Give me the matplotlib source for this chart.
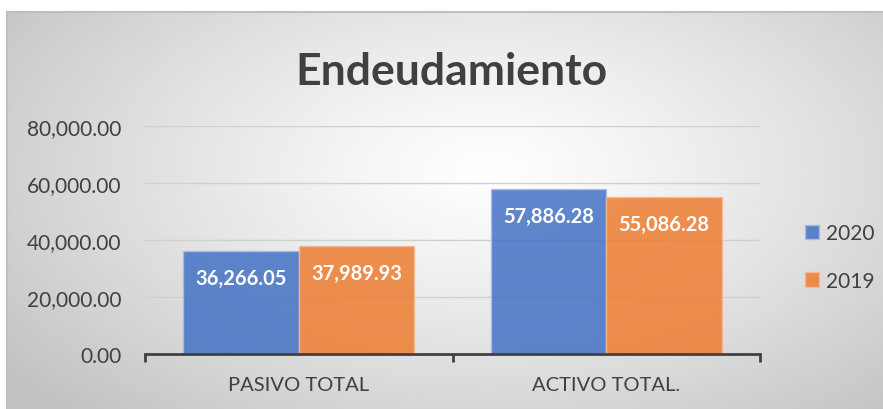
import matplotlib
import matplotlib.pyplot as plt
import numpy as np
from matplotlib.ticker import FuncFormatter, FixedLocator

matplotlib.rcParams['font.family'] = ['Lato', 'DejaVu Sans']

categories = ['PASIVO TOTAL', 'ACTIVO TOTAL.']
years = ['2020', '2019']
values_2020 = [36266.05, 57886.28]
values_2019 = [37989.93, 55086.28]
y_ticks = [0, 20000, 40000, 60000, 80000]

W, H = 883, 410
fig = plt.figure(figsize=(W / 100, H / 100), dpi=100)

# radial gradient background of the chart area
bg = fig.add_axes([7 / W, 0, (W - 7) / W, (H - 13) / H], zorder=-5)
gx, gy = np.meshgrid(np.linspace(0, 1, 400), np.linspace(0, 1, 200))
r = np.sqrt(((gx - 0.55) / 0.7) ** 2 + ((gy - 0.4) / 0.85) ** 2)
r = np.clip(r, 0, 1)
shade = 1.0 - 0.24 * r ** 1.2
bg.imshow(np.dstack([shade] * 3), extent=[0, 1, 0, 1], aspect='auto', origin='upper')
bg.set_xticks([])
bg.set_yticks([])
for s in ['right', 'bottom']:
    bg.spines[s].set_visible(False)
for s in ['top', 'left']:
    bg.spines[s].set_color('#bfbfbf')
    bg.spines[s].set_linewidth(1.5)

ax = fig.add_axes([145 / W, (H - 355) / H, (760 - 145) / W, (355 - 127) / H])
ax.patch.set_alpha(0)

x = np.arange(len(categories))
bw = 0.375
b1 = ax.bar(x - bw / 2, values_2020, bw, color='#4472C4', alpha=0.85,
            edgecolor='#a9bde6', linewidth=1, label=years[0], zorder=3)
b2 = ax.bar(x + bw / 2, values_2019, bw, color='#ED7D31', alpha=0.85,
            edgecolor='#f5bb94', linewidth=1, label=years[1], zorder=3)

for bars, vals in [(b1, values_2020), (b2, values_2019)]:
    for rect, v in zip(bars, vals):
        ax.annotate('{:,.2f}'.format(v), (rect.get_x() + rect.get_width() / 2, v),
                    xytext=(0, -27), textcoords='offset pixels', ha='center',
                    va='center', color='white', fontsize=14.5, fontweight='bold',
                    zorder=5)

ax.set_xlim(-0.5, 1.5)
ax.set_ylim(0, 80000)
ax.set_yticks(y_ticks)
ax.yaxis.set_major_formatter(FuncFormatter(lambda v, p: '{:,.2f}'.format(v)))
ax.tick_params(axis='y', length=0, labelsize=15, labelcolor='#404040', pad=17)
ax.set_xticks(x)
ax.set_xticklabels(categories)
ax.tick_params(axis='x', which='major', length=0, labelsize=14.5,
               labelcolor='#404040', pad=16)
ax.xaxis.set_minor_locator(FixedLocator([-0.5, 0.5, 1.5]))
ax.tick_params(axis='x', which='minor', length=6, width=2, color='#404040',
               direction='out')
ax.grid(axis='y', color='#d0d0d0', linewidth=1, zorder=0)
for s in ['top', 'right', 'left']:
    ax.spines[s].set_visible(False)
ax.spines['bottom'].set_color('#404040')
ax.spines['bottom'].set_linewidth(2)
ax.spines['bottom'].set_zorder(4)

fig.text((293 + 610) / 2 / W, 1 - 72 / H, 'Endeudamiento', ha='center',
         va='center', fontsize=32, fontweight='bold', color='#404040')

fig.legend(loc='center left', bbox_to_anchor=(786 / W, 1 - 258 / H),
           frameon=False, fontsize=15, labelcolor='#404040',
           handlelength=0.7, handleheight=0.7, handletextpad=0.3,
           labelspacing=1.3)

fig.savefig('out.png', dpi=100)
